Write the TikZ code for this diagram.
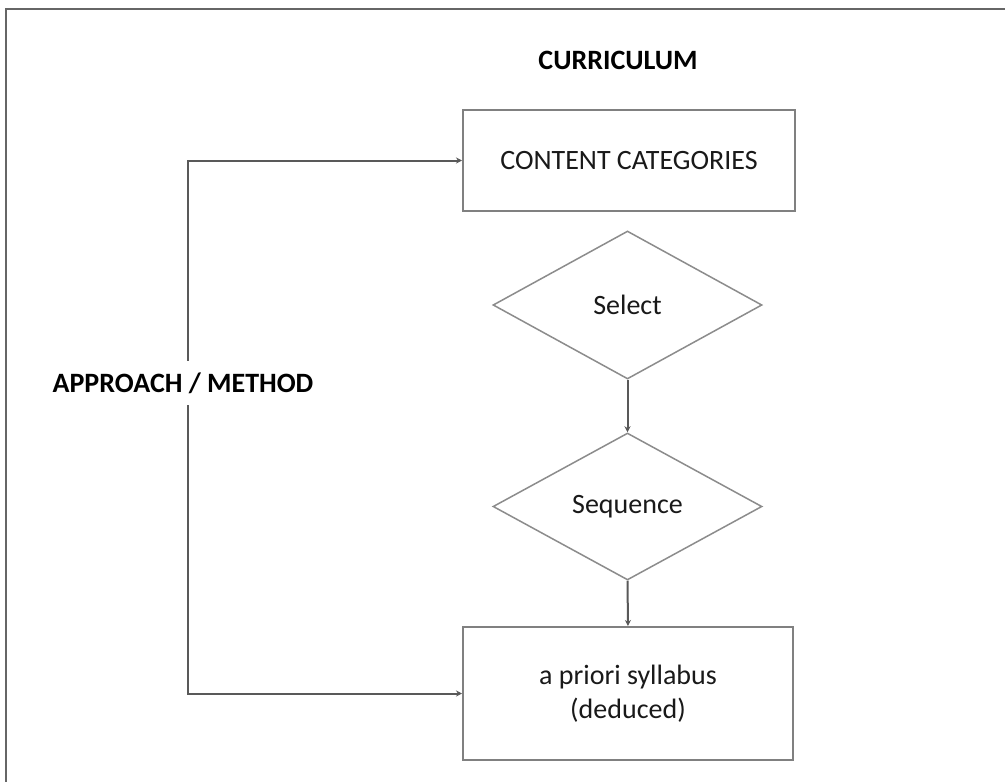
\documentclass[tikz,border=0pt]{standalone}
\usepackage{fontspec}
\setmainfont{Carlito}
\usetikzlibrary{shapes.geometric,arrows.meta}
\begin{document}
\begin{tikzpicture}[x=1pt,y=-1pt,
  every node/.style={font=\fontsize{28}{34}\selectfont, text=black!90},
  boxnode/.style={draw=black!50, line width=2pt, rectangle, inner sep=0pt, align=center},
  decision/.style={draw=black!45, line width=1.5pt, diamond, inner sep=0pt},
  conn/.style={draw=black!65, line width=2pt, -{Stealth[length=6pt,width=6pt]}},
  boldlabel/.style={font=\bfseries\fontsize{28}{34}\selectfont, text=black}
]
\useasboundingbox (0,0) rectangle (1005,782);
\fill[white] (0,0) rectangle (1005,782);
% frame
\draw[black!60, line width=2pt] (6,782) -- (6,9) -- (1005,9);

\node[boldlabel] (title) at (618,60) {CURRICULUM};
\node[boxnode, minimum width=332pt, minimum height=101pt] (cc) at (629,160.5) {CONTENT CATEGORIES};
\node[decision, minimum width=269pt, minimum height=148pt] (sel) at (627.5,305) {Select};
\node[decision, minimum width=269pt, minimum height=147pt] (seq) at (627.5,506.5) {Sequence};
\node[boxnode, minimum width=330pt, minimum height=133pt] (syl) at (628,693.5) {a priori syllabus\\(deduced)};

\coordinate (spine) at (188,383);
\draw[conn] (sel.south) -- (seq.north);
\draw[conn] (seq.south) -- (syl.north);
\draw[conn] (spine) |- (cc.west);
\draw[conn] (spine) |- (syl.west);

\node[boldlabel, fill=white, inner xsep=2pt, inner ysep=12pt] (am) at (183,383) {APPROACH / METHOD};
\end{tikzpicture}
\end{document}
